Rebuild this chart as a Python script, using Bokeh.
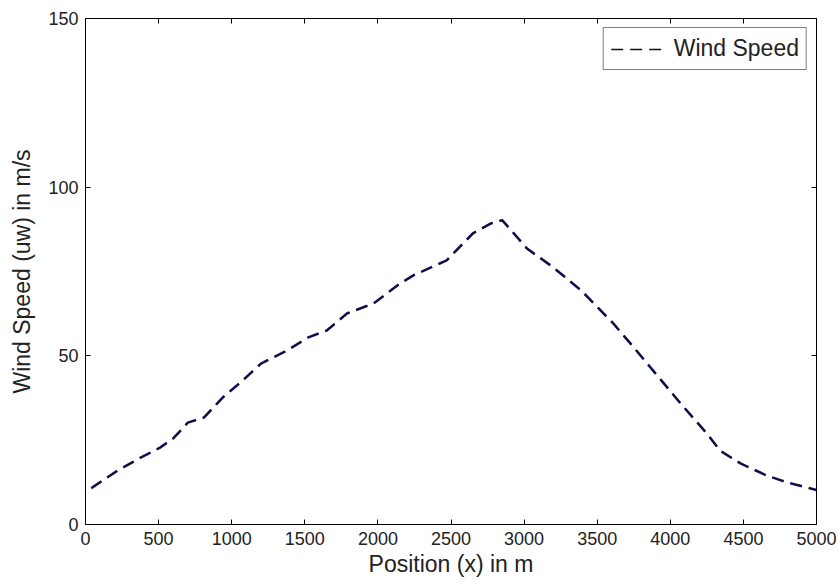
from bokeh.plotting import figure
from bokeh.models import LinearAxis, Range1d, Legend, LegendItem, FixedTicker
from bokeh.embed import file_html
from bokeh.resources import INLINE

# Data
position = [40, 220, 380, 510, 600, 700, 810, 940, 1060, 1200, 1380, 1520, 1650,
            1790, 1970, 2150, 2240, 2470, 2650, 2770, 2850, 2900, 3020, 3200,
            3390, 3610, 3750, 4070, 4250, 4340, 4480, 4660, 4800, 5000]
wind_speed = [10.8, 16.0, 19.9, 22.8, 25.5, 30.2, 31.7, 37.7, 42.1, 47.7, 51.6,
              55.4, 57.5, 62.6, 65.5, 71.4, 73.8, 78.3, 86.3, 89.2, 90.2, 87.8,
              81.8, 76.2, 69.4, 59.6, 52.5, 35.9, 27.0, 21.9, 18.1, 14.5, 12.5, 10.2]
x_ticks = [0, 500, 1000, 1500, 2000, 2500, 3000, 3500, 4000, 4500, 5000]
y_ticks = [0, 50, 100, 150]

FONT = "Liberation Sans"

p = figure(width=838, height=585, output_backend="svg", toolbar_location=None,
           x_range=Range1d(0, 5000), y_range=Range1d(0, 150),
           min_border_left=85, min_border_right=22, min_border_top=18,
           min_border_bottom=61)
p.grid.visible = False
p.outline_line_color = "black"
p.outline_line_width = 1
p.background_fill_color = "white"
p.border_fill_color = "white"

for ax in (p.xaxis[0], p.yaxis[0]):
    ax.major_tick_in = 5
    ax.major_tick_out = 0
    ax.minor_tick_line_color = None
    ax.axis_line_color = "black"
    ax.major_label_text_font = FONT
    ax.major_label_text_font_size = "18px"
    ax.major_label_text_color = "#222222"
    ax.axis_label_text_font = FONT
    ax.axis_label_text_font_size = "23px"
    ax.axis_label_text_font_style = "normal"
    ax.axis_label_text_color = "#222222"

p.xaxis[0].ticker = FixedTicker(ticks=x_ticks)
p.yaxis[0].ticker = FixedTicker(ticks=y_ticks)
p.xaxis[0].axis_label = "Position (x) in m"
p.yaxis[0].axis_label = "Wind Speed (uw) in m/s"
p.xaxis[0].major_label_standoff = 7
p.xaxis[0].axis_label_standoff = 3
p.yaxis[0].major_label_standoff = 7
p.yaxis[0].axis_label_standoff = 10

top = LinearAxis(ticker=FixedTicker(ticks=x_ticks), major_tick_in=5, major_tick_out=0,
                 minor_tick_line_color=None, axis_line_color=None, major_label_standoff=0,
                 major_label_overrides={t: "" for t in x_ticks})
right = LinearAxis(ticker=FixedTicker(ticks=y_ticks), major_tick_in=5, major_tick_out=0,
                   minor_tick_line_color=None, axis_line_color=None, major_label_standoff=0,
                   major_label_overrides={t: "" for t in y_ticks})
p.add_layout(top, "above")
p.add_layout(right, "right")

p.line(position, wind_speed, line_color="#1c1ca8", line_width=2.6, line_dash="12 7")
r = p.line(position, wind_speed, line_color="#111111", line_width=1.5, line_dash="12 7")

legend = Legend(items=[LegendItem(label="Wind Speed", renderers=[r])],
                location="top_right", border_line_color="black", border_line_width=1,
                label_text_font=FONT, label_text_font_size="23px",
                label_text_color="#222222", glyph_width=55, margin=9,
                padding=7, spacing=0, label_standoff=8)
p.add_layout(legend)

open("out.html", "w").write(file_html(p, INLINE))
